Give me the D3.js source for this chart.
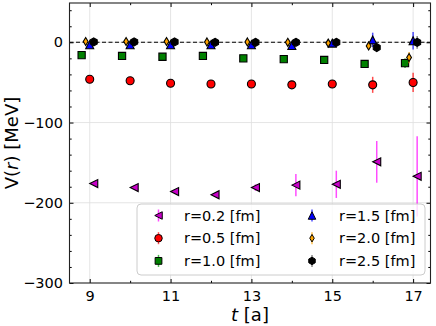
<!DOCTYPE html>
<html>
<head>
<meta charset="utf-8">
<script src="https://cdn.jsdelivr.net/npm/d3@7"></script>
<style>
  body { margin: 0; background: white; }
  svg { display: block; font-family: "DejaVu Sans", sans-serif; }
</style>
</head>
<body>
<div id="container"></div>
<script>
let w = 436;
let h = 326;

// data
let tVals = [9, 10, 11, 12, 13, 14, 15, 16, 17];
let v02 = [-176, -181, -186, -190, -181, -178, -177, -149, -167];
let e02 = [2, 2, 2, 2, 4, 14, 17, 26, 50];
let v05 = [-46, -48, -51, -52, -52, -53, -52, -53, -50];
let e05 = [1, 1, 1, 1, 2, 2, 3, 10, 12];
let v10 = [-16, -17, -18, -17, -20, -21, -22, -27, -26];
let e10 = [1, 1, 1, 1, 1, 1, 2, 3, 6];
let v15 = [-3, -3, -3, -3, -3, -4, -1, 3, 2];
let e15 = [1, 1, 1, 1, 1, 2, 3, 9, 11];
let v20 = [1, 1, 1, 0.5, 0.5, 0, -1, -4.5, -19];
let e20 = [1, 1, 1, 1, 1, 2, 3, 5, 7];
let v25 = [0.5, 0.5, 0.5, 0, 0, 0, 0, -6.5, 0];
let e25 = [1, 1, 1, 1, 1, 1, 2, 3, 8];

let xMajor = [9, 11, 13, 15, 17];
let xMinor = [10, 12, 14, 16];
let yMajor = [0, -100, -200, -300];
let yMinor = [40, 20, -20, -40, -60, -80, -120, -140, -160, -180, -220, -240, -260, -280];

let series = [
  {label: "r=0.2 [fm]", v: v02, e: e02, dx: 0.1, shape: "tri-left", fill: "#c800c8", err: "#ff00ff"},
  {label: "r=0.5 [fm]", v: v05, e: e05, dx: 0, shape: "circle", fill: "#ff0000", err: "#ff0000"},
  {label: "r=1.0 [fm]", v: v10, e: e10, dx: -0.2, shape: "square", fill: "#008000", err: "#00a000"},
  {label: "r=1.5 [fm]", v: v15, e: e15, dx: 0, shape: "tri-up", fill: "#0000ff", err: "#0000ff"},
  {label: "r=2.0 [fm]", v: v20, e: e20, dx: -0.1, shape: "diamond", fill: "#ffa500", err: "#ffa500"},
  {label: "r=2.5 [fm]", v: v25, e: e25, dx: 0.1, shape: "hexagon", fill: "#000000", err: "#555555"}
];

let pLeft = 69.5, pRight = 430.5, pTop = 3, pBottom = 283;

let x = d3.scaleLinear().domain([8.5, 17.43]).range([pLeft, pRight]);
let y = d3.scaleLinear().domain([-300, 49]).range([pBottom, pTop]);

let viz = d3.select('#container')
  .append('svg')
    .attr('width', w)
    .attr('height', h)
;

// grid
let grid = viz.append("g").attr("stroke", "#dedede").attr("stroke-width", 0.8);
grid.selectAll("line.gx").data(xMajor).enter().append("line")
  .attr("x1", d => x(d)).attr("x2", d => x(d)).attr("y1", pTop).attr("y2", pBottom);
grid.selectAll("line.gy").data(yMajor.slice(0, 3)).enter().append("line")
  .attr("x1", pLeft).attr("x2", pRight).attr("y1", d => y(d)).attr("y2", d => y(d));

// dashed zero line
viz.append("line")
  .attr("x1", pLeft).attr("x2", pRight)
  .attr("y1", y(0)).attr("y2", y(0))
  .attr("stroke", "black").attr("stroke-width", 1.1)
  .attr("stroke-dasharray", "4,2.5");

function markerPath(shape, s) {
  if (shape == "circle") {
    return d3.symbol(d3.symbolCircle, Math.PI * s * s / 4)();
  }
  if (shape == "square") {
    let a = s * 0.9 / 2;
    return `M${-a},${-a}H${a}V${a}H${-a}Z`;
  }
  if (shape == "tri-up") {
    let a = s / 2;
    return `M0,${-a}L${a},${a}L${-a},${a}Z`;
  }
  if (shape == "tri-left") {
    let a = s / 2;
    return `M${-a},0L${a},${-a}L${a},${a}Z`;
  }
  if (shape == "diamond") {
    let a = s / 2;
    return `M0,${-a}L${a * 0.6},0L0,${a}L${-a * 0.6},0Z`;
  }
  // hexagon
  let a = s / 2;
  let pts = d3.range(6).map(i => {
    let ang = Math.PI / 3 * i - Math.PI / 2;
    return [a * Math.cos(ang), a * Math.sin(ang)];
  });
  return "M" + pts.map(p => p.join(",")).join("L") + "Z";
}

let plot = viz.append("g");

series.forEach(function(s) {
  let pts = tVals.map((t, i) => ({t: t + s.dx, v: s.v[i], e: s.e[i]}));
  let g = plot.append("g");
  g.selectAll("line").data(pts).enter().append("line")
    .attr("x1", d => x(d.t)).attr("x2", d => x(d.t))
    .attr("y1", d => y(d.v + d.e)).attr("y2", d => y(d.v - d.e))
    .attr("stroke", s.err).attr("stroke-opacity", 0.7).attr("stroke-width", 1.5);
  g.selectAll("path").data(pts).enter().append("path")
    .attr("d", markerPath(s.shape, 8))
    .attr("transform", d => `translate(${x(d.t)},${y(d.v)})`)
    .attr("fill", s.fill).attr("stroke", "black").attr("stroke-width", 1.1);
});

// axes with inward ticks
function addAxis(axisFn, scale, major, minor, tr, labels) {
  let ax = viz.append("g").attr("transform", tr)
    .call(axisFn(scale).tickValues(major).tickSizeInner(-4).tickSizeOuter(0)
      .tickPadding(labels ? (axisFn == d3.axisBottom ? 8 : 6.5) : 0)
      .tickFormat(labels ? (d => d3.format("d")(d).replace("-", "\u2212")) : ""));
  ax.select(".domain").remove();
  ax.selectAll("text").attr("font-size", "14.5px").attr("font-family", "DejaVu Sans").attr("fill", "black");
  let mn = viz.append("g").attr("transform", tr)
    .call(axisFn(scale).tickValues(minor).tickSizeInner(-2.2).tickSizeOuter(0).tickFormat(""));
  mn.select(".domain").remove();
}
addAxis(d3.axisBottom, x, xMajor, xMinor, `translate(0,${pBottom})`, true);
addAxis(d3.axisTop, x, xMajor, xMinor, `translate(0,${pTop})`, false);
addAxis(d3.axisLeft, y, yMajor, yMinor, `translate(${pLeft},0)`, true);
addAxis(d3.axisRight, y, yMajor, yMinor, `translate(${pRight},0)`, false);

viz.append("rect")
  .attr("x", pLeft).attr("y", pTop)
  .attr("width", pRight - pLeft).attr("height", pBottom - pTop)
  .attr("fill", "none").attr("stroke", "#222").attr("stroke-width", 1.1);

// axis labels
let xl = viz.append("text")
  .attr("x", (pLeft + pRight) / 2).attr("y", 321)
  .attr("text-anchor", "middle").attr("font-size", "18px");
xl.append("tspan").attr("font-style", "italic").text("t");
xl.append("tspan").text(" [a]");

let yl = viz.append("text")
  .attr("transform", `translate(17.5,${(pTop + pBottom) / 2}) rotate(-90)`)
  .attr("text-anchor", "middle").attr("font-size", "18px");
yl.append("tspan").text("V(");
yl.append("tspan").attr("font-style", "italic").text("r");
yl.append("tspan").text(") [MeV]");

// legend
let leg = viz.append("g");
leg.append("rect")
  .attr("x", 137).attr("y", 204).attr("width", 288).attr("height", 71)
  .attr("rx", 4)
  .attr("fill", "white").attr("fill-opacity", 0.8)
  .attr("stroke", "#cccccc").attr("stroke-width", 1);

series.forEach(function(s, i) {
  let col = Math.floor(i / 3), row = i % 3;
  let mx = col == 0 ? 158.5 : 312;
  let tx = col == 0 ? 184 : 339;
  let cy = 215.5 + row * 22.7;
  leg.append("line")
    .attr("x1", mx).attr("x2", mx).attr("y1", cy - 6).attr("y2", cy + 6)
    .attr("stroke", s.err).attr("stroke-opacity", 0.7).attr("stroke-width", 1.5);
  leg.append("path")
    .attr("d", markerPath(s.shape, 7.5))
    .attr("transform", `translate(${mx},${cy})`)
    .attr("fill", s.fill).attr("stroke", "black").attr("stroke-width", 1);
  leg.append("text")
    .attr("x", tx).attr("y", cy + 5.2)
    .attr("font-size", "14.5px")
    .text(s.label);
});
</script>
</body>
</html>
